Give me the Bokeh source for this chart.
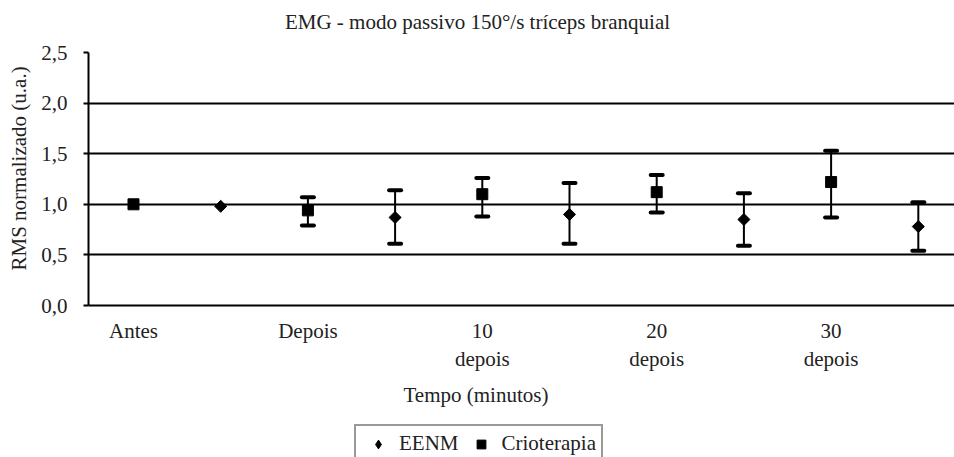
import numpy as np
from bokeh.plotting import figure
from bokeh.layouts import column
from bokeh.models import (ColumnDataSource, Whisker, TeeHead, FixedTicker, Legend,
                          LegendItem, Range1d, Grid, CustomJSTickFormatter, Title, Label)
from bokeh.embed import file_html
from bokeh.resources import INLINE

# ---------------- data ----------------
categories = ["Antes", "", "Depois", "", "10\ndepois", "", "20\ndepois", "", "30\ndepois", ""]
label_positions = [0, 2, 4, 6, 8]

crio_pos = [0, 2, 4, 6, 8]
crio_mean = [1.00, 0.94, 1.10, 1.12, 1.22]
crio_upper = [1.00, 1.07, 1.26, 1.29, 1.53]
crio_lower = [1.00, 0.79, 0.88, 0.92, 0.87]

eenm_pos = [1, 3, 5, 7, 9]
eenm_mean = [0.98, 0.87, 0.90, 0.85, 0.78]
eenm_upper = [0.98, 1.14, 1.21, 1.11, 1.02]
eenm_lower = [0.98, 0.61, 0.61, 0.59, 0.54]

y_ticks = [0.0, 0.5, 1.0, 1.5, 2.0, 2.5]

TITLE = "EMG - modo passivo 150°/s tríceps branquial"
FONT = "Liberation Serif"
FS = "21px"
TXT = "#222222"

x_range = Range1d(-0.516, 9.415)

# ---------------- title strip ----------------
ts = figure(width=954, height=36, output_backend="svg", toolbar_location=None,
            x_range=x_range, y_range=Range1d(0, 1),
            x_axis_location=None, y_axis_location=None,
            min_border_left=0, min_border_right=0, min_border_top=0, min_border_bottom=0)
ts.outline_line_color = None
ts.xgrid.visible = False
ts.ygrid.visible = False
ts.border_fill_color = "white"
ts.add_layout(Label(x=3.945, y=0.40, text=TITLE, text_align="center", text_baseline="middle",
                    text_font=FONT, text_font_size=FS, text_color=TXT))

# ---------------- main chart ----------------
p = figure(width=954, height=388, output_backend="svg", toolbar_location=None,
           x_range=x_range, y_range=Range1d(0, 2.5),
           min_border_left=88, min_border_right=0, min_border_top=16,
           min_border_bottom=119)
p.outline_line_color = None
p.background_fill_color = "white"
p.border_fill_color = "white"

# grids
p.xgrid.visible = False
p.ygrid.ticker = FixedTicker(ticks=[0.5, 1.0, 1.5, 2.0])
p.ygrid.grid_line_color = "black"
p.ygrid.grid_line_width = 2
top_grid = Grid(dimension=1, ticker=FixedTicker(ticks=[2.5]),
                grid_line_color="#8a8a8a", grid_line_width=2)
p.add_layout(top_grid)

# y axis
p.yaxis.ticker = FixedTicker(ticks=y_ticks)
p.yaxis.formatter = CustomJSTickFormatter(code="return tick.toFixed(1).replace('.', ',');")
p.yaxis.axis_line_color = "black"
p.yaxis.axis_line_width = 2
p.yaxis.major_tick_line_color = "black"
p.yaxis.major_tick_line_width = 2
p.yaxis.major_tick_out = 5
p.yaxis.major_tick_in = 0
p.yaxis.minor_tick_line_color = None
p.yaxis.major_label_text_font = FONT
p.yaxis.major_label_text_font_size = FS
p.yaxis.major_label_text_color = TXT
p.yaxis.major_label_standoff = 16

ytitle = Title(text="RMS normalizado (u.a.)", align="left", offset=35, standoff=12,
               vertical_align="top",
               text_font=FONT, text_font_size=FS, text_font_style="normal", text_color=TXT)
p.add_layout(ytitle, "left")

# x axis
p.xaxis.ticker = FixedTicker(ticks=label_positions)
p.xaxis.major_label_overrides = {i: categories[i] for i in label_positions}
p.xaxis.axis_line_color = "black"
p.xaxis.axis_line_width = 2
p.xaxis.major_tick_line_color = None
p.xaxis.minor_tick_line_color = None
p.xaxis.major_tick_out = 0
p.xaxis.major_tick_in = 0
p.xaxis.major_label_text_font = FONT
p.xaxis.major_label_text_font_size = FS
p.xaxis.major_label_text_color = TXT
p.xaxis.major_label_standoff = 13

xtitle = Title(text="Tempo (minutos)", align="left", offset=315, standoff=12,
               text_font=FONT, text_font_size=FS, text_font_style="normal", text_color=TXT)
p.add_layout(xtitle, "below")

# error bars
def whisker_source(pos, up, lo):
    xs, us, ls = [], [], []
    for x, u, l in zip(pos, up, lo):
        if u > l:
            xs.append(x); us.append(u); ls.append(l)
    return ColumnDataSource(dict(x=xs, upper=us, lower=ls))

for pos, up, lo in [(crio_pos, crio_upper, crio_lower), (eenm_pos, eenm_upper, eenm_lower)]:
    w = Whisker(source=whisker_source(pos, up, lo), base="x", upper="upper", lower="lower",
                line_color="black", line_width=2, level="glyph",
                upper_head=TeeHead(size=12, line_color="black", line_width=4, line_cap="round"),
                lower_head=TeeHead(size=12, line_color="black", line_width=4, line_cap="round"))
    p.add_layout(w)

crio_src = ColumnDataSource(dict(x=crio_pos, y=crio_mean))
eenm_src = ColumnDataSource(dict(x=eenm_pos, y=eenm_mean))

p.scatter("x", "y", source=crio_src, marker="square", size=11,
          fill_color="black", line_color="black")
p.scatter("x", "y", source=eenm_src, marker="square", angle=np.pi / 4, size=8.5,
          fill_color="black", line_color="black")

# ---------------- legend strip (its ranges show none of the points) ----------------
lg = figure(width=954, height=33, output_backend="svg", toolbar_location=None,
            x_range=Range1d(100, 101), y_range=Range1d(100, 101),
            x_axis_location=None, y_axis_location=None,
            min_border_left=0, min_border_right=0, min_border_top=0, min_border_bottom=0)
lg.outline_line_color = None
lg.xgrid.visible = False
lg.ygrid.visible = False
lg.border_fill_color = "white"
lg_eenm = lg.scatter("x", "y", source=eenm_src, marker="diamond",
                     fill_color="black", line_color="black")
lg_crio = lg.scatter("x", "y", source=crio_src, marker="square",
                     fill_color="black", line_color="black")

legend = Legend(items=[LegendItem(label="EENM", renderers=[lg_eenm]),
                       LegendItem(label="Crioterapia", renderers=[lg_crio])],
                orientation="horizontal", location=(266, -6),
                border_line_color="#333333", border_line_width=2,
                background_fill_color="white", background_fill_alpha=1,
                label_text_font=FONT, label_text_font_size=FS, label_text_color=TXT,
                glyph_width=34, glyph_height=22, label_standoff=4, spacing=5,
                padding=5, margin=0, label_height=22)
lg.add_layout(legend)

layout = column(ts, p, lg, spacing=0)
open("out.html", "w").write(file_html(layout, INLINE))
